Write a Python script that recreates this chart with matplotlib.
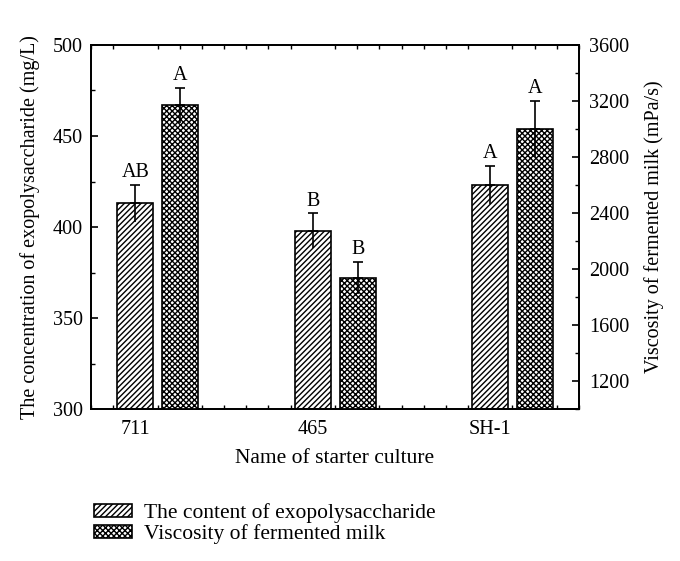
import matplotlib
matplotlib.use("Agg")
import matplotlib.pyplot as plt
from matplotlib.patches import Patch
from matplotlib.ticker import MultipleLocator, FixedLocator

plt.rcParams['font.family'] = ['Liberation Serif', 'DejaVu Serif']
plt.rcParams['hatch.linewidth'] = 1.0
plt.rcParams['font.size'] = 14

cultures = ["711", "465", "SH-1"]
eps = [413, 398, 423]
eps_err = [10, 9.5, 10.5]
eps_letters = ["AB", "B", "A"]
visc = [3170, 1935, 3000]
visc_err = [125, 115, 200]
visc_letters = ["A", "B", "A"]

fig = plt.figure(figsize=(6.8, 5.61), dpi=100)
ax = fig.add_axes([0.1338, 0.2709, 0.7177, 0.6489])
ax2 = ax.twinx()

x = list(range(len(cultures)))
off = 0.2535
w = 0.203
xv = [i + off for i in x]

ax.bar(x, eps, width=w, bottom=0, color='white', edgecolor='black', hatch='//////', linewidth=1.2, zorder=2)
ax.errorbar(x, eps, yerr=[[0]*3, eps_err], fmt='none', ecolor='black', elinewidth=1.2, capsize=3.5, capthick=1.2, zorder=3)
ax.errorbar(x, eps, yerr=[eps_err, [0]*3], fmt='none', ecolor='black', elinewidth=1.2, capsize=0, zorder=3)
for xi, v, e, t in zip(x, eps, eps_err, eps_letters):
    ax.annotate(t, (xi, v + e), xytext=(0, 2), textcoords='offset points', ha='center', va='bottom', fontsize=14.5)

ax2.bar(xv, visc, width=w, color='white', edgecolor='black', hatch='xxxxxx', linewidth=1.2, zorder=2)
ax2.errorbar(xv, visc, yerr=[[0]*3, visc_err], fmt='none', ecolor='black', elinewidth=1.2, capsize=3.5, capthick=1.2, zorder=3)
ax2.errorbar(xv, visc, yerr=[visc_err, [0]*3], fmt='none', ecolor='black', elinewidth=1.2, capsize=0, zorder=3)
for xi, v, e, t in zip(xv, visc, visc_err, visc_letters):
    ax2.annotate(t, (xi, v + e), xytext=(0, 2), textcoords='offset points', ha='center', va='bottom', fontsize=14.5)

ax.set_xlim(-0.25, 2.5)
ax.set_ylim(300, 500)
ax2.set_ylim(1000, 3600)

ax.xaxis.set_major_locator(FixedLocator(x))
ax.set_xticklabels(cultures)
ax.xaxis.set_minor_locator(MultipleLocator(0.125))
ax.yaxis.set_major_locator(MultipleLocator(50))
ax.yaxis.set_minor_locator(MultipleLocator(25))
ax2.yaxis.set_major_locator(FixedLocator([1200, 1600, 2000, 2400, 2800, 3200, 3600]))
ax2.yaxis.set_minor_locator(MultipleLocator(200))

ax.tick_params(axis='both', which='major', direction='in', length=5, width=1.2, labelsize=14.5, top=True)
ax.tick_params(axis='both', which='minor', direction='in', length=3, width=1.0, top=True)
ax.tick_params(axis='x', which='major', length=0, pad=8)
ax.tick_params(axis='y', which='both', right=False, pad=6)
ax2.tick_params(axis='y', which='major', direction='in', length=5, width=1.2, labelsize=14.5, pad=7)
ax2.tick_params(axis='y', which='minor', direction='in', length=3, width=1.0)

for a in (ax, ax2):
    for s in a.spines.values():
        s.set_linewidth(1.3)

ax.set_ylabel("The concentration of exopolysaccharide (mg/L)", fontsize=14.5, labelpad=9)
ax2.set_ylabel("Viscosity of fermented milk (mPa/s)", fontsize=14.5, labelpad=11)
ax.set_xlabel("Name of starter culture", fontsize=15.5, labelpad=7)

handles = [Patch(facecolor='white', edgecolor='black', hatch='//////', linewidth=1.2),
           Patch(facecolor='white', edgecolor='black', hatch='xxxxxx', linewidth=1.2)]
fig.legend(handles, ["The content of exopolysaccharide", "Viscosity of fermented milk"],
           loc='upper left', bbox_to_anchor=(0.125, 0.118), frameon=False, fontsize=15.5,
           handlelength=1.8, handleheight=0.55, handletextpad=0.55, labelspacing=0.05, borderaxespad=0)

fig.savefig("out.png", dpi=100)
